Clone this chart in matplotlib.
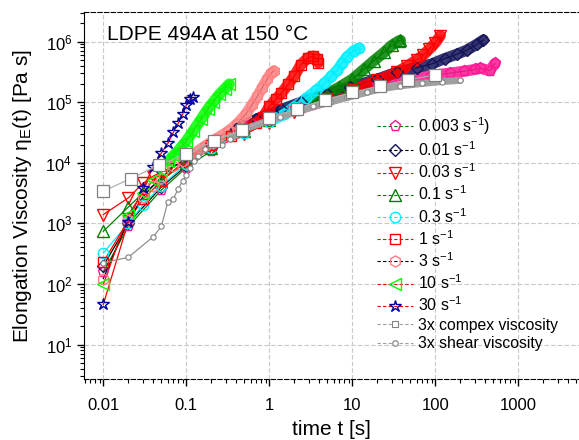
import numpy as np
import matplotlib
matplotlib.use("Agg")
import matplotlib.pyplot as plt
from matplotlib.lines import Line2D
from matplotlib.ticker import NullFormatter

plt.rcParams['font.family'] = ['Liberation Sans', 'DejaVu Sans']
plt.rcParams['mathtext.fontset'] = 'custom'
plt.rcParams['mathtext.rm'] = 'Liberation Sans'
plt.rcParams['mathtext.it'] = 'Liberation Sans:italic'
plt.rcParams['mathtext.default'] = 'regular'

# elongation viscosity (Pa s) vs time (s)
t_30 = [0.01, 0.02, 0.03, 0.04, 0.05, 0.06, 0.07, 0.08, 0.09, 0.10, 0.11, 0.12]
eta_30 = [46, 1070, 3800, 8500, 14500, 21000, 32000, 45000, 63000, 89000, 112000, 120000]

t_10 = [0.01, 0.02, 0.03, 0.04, 0.05, 0.06, 0.07, 0.08, 0.10, 0.12, 0.15, 0.18, 0.21, 0.25, 0.29, 0.33]
eta_10 = [98, 1400, 3200, 5200, 7600, 10500, 13200, 15800, 23000, 33000, 52000, 76000, 100000,
          135000, 166000, 200000]

t_3 = [0.01, 0.02, 0.03, 0.04, 0.05, 0.07, 0.09, 0.12, 0.17, 0.23, 0.32, 0.41, 0.52, 0.62, 0.72,
       0.82, 0.94, 1.05, 1.13]
eta_3 = [123, 1120, 2750, 4200, 5600, 8700, 10700, 13800, 19000, 25000, 33000, 44000, 63000, 91000,
         126000, 174000, 240000, 300000, 330000]

t_1 = [0.01, 0.02, 0.03, 0.05, 0.1, 0.2, 0.35, 0.5, 0.7, 0.85, 1.0, 1.2, 1.4, 1.7, 2.0, 2.4, 2.9,
       3.4, 3.8, 3.9]
eta_1 = [230, 1120, 2500, 5000, 11200, 20000, 28000, 35500, 46000, 58000, 85000, 112000, 141000,
         200000, 270000, 417000, 537000, 575000, 525000, 447000]

t_03 = [0.01, 0.02, 0.03, 0.05, 0.1, 0.2, 0.5, 1.0, 1.5, 2.0, 2.8, 3.7, 4.6, 5.6, 6.6, 7.6, 8.6,
        10.4, 11.9]
eta_03 = [324, 1000, 2000, 4200, 9500, 17800, 31600, 47900, 63000, 83000, 117000, 158000, 204000,
          269000, 339000, 447000, 562000, 708000, 776000]

t_01 = [0.01, 0.02, 0.03, 0.05, 0.1, 0.2, 0.5, 1, 2, 4, 7, 10, 14, 18, 24, 30, 36, 38]
eta_01 = [740, 1860, 3160, 5250, 10000, 17800, 33000, 50000, 76000, 117000, 178000, 240000, 355000,
          479000, 661000, 871000, 1020000, 1050000]

t_003 = [0.01, 0.02, 0.03, 0.04, 0.06, 0.1, 0.2, 0.5, 1, 2, 5, 10, 20, 35, 45, 60, 72, 85, 100, 115]
eta_003 = [1400, 2630, 4570, 6030, 7940, 10500, 16600, 30200, 45700, 69000, 112000, 158000, 229000,
           316000, 389000, 501000, 603000, 759000, 955000, 1260000]

t_001 = [0.01, 0.02, 0.05, 0.1, 0.2, 0.4, 0.7, 1.4, 2.4, 5, 9.5, 20, 35, 60, 90, 130, 180, 240, 320, 380]
eta_001 = [200, 1000, 3980, 8900, 17800, 35500, 52500, 75900, 100000, 138000, 178000, 240000,
           316000, 372000, 427000, 525000, 617000, 724000, 912000, 1070000]

t_0003 = [0.01, 0.02, 0.05, 0.1, 0.2, 0.4, 0.6, 1, 2.4, 5, 9.5, 20, 38, 88, 150, 220, 300, 350, 450, 525]
eta_0003 = [158, 890, 3550, 8300, 15800, 31600, 45700, 57500, 79400, 107000, 138000, 191000, 224000,
            275000, 302000, 324000, 347000, 363000, 331000, 437000]

# 3x shear viscosity and 3x complex viscosity
t_shear = [0.01, 0.02, 0.04, 0.05, 0.06, 0.07, 0.08, 0.09, 0.1, 0.11, 0.125, 0.14, 0.17, 0.21, 0.27,
           0.34, 0.54, 1.0, 1.36, 2.4, 3.4, 5.4, 8.6, 15, 22, 38, 70, 120, 200]
eta_shear = [224, 275, 603, 891, 2290, 2570, 3720, 5010, 6310, 8130, 10500, 12900, 17000, 18600,
             20000, 25100, 37200, 50100, 57500, 72400, 85100, 100000, 120000, 145000, 166000,
             186000, 204000, 219000, 229000]

t_cplx = [0.01, 0.0215, 0.0464, 0.1, 0.215, 0.464, 1, 2.15, 4.64, 10, 21.5, 46.4, 100]
eta_cplx = [3400, 5500, 9100, 14000, 23000, 35000, 54000, 78000, 110000, 145000, 186000, 234000, 282000]

labels = ['0.003 s$^{-1}$)', '0.01 s$^{-1}$', '0.03 s$^{-1}$', '0.1 s$^{-1}$', '0.3 s$^{-1}$',
          '1 s$^{-1}$', '3 s$^{-1}$', '10 s$^{-1}$', '30 s$^{-1}$']
xtick_vals = [0.01, 0.1, 1, 10, 100, 1000]
xtick_labels = ['0.01', '0.1', '1', '10', '100', '1000']

# (t, eta, marker, marker color, line color, marker size, band from t)
series = [
    (t_0003, eta_0003, 'p', '#ff1493', '#008000', 8, 0.3),
    (t_001, eta_001, 'D', '#14145a', 'black', 6.5, 0.3),
    (t_003, eta_003, 'v', '#ff0000', '#ff0000', 8, 8),
    (t_01, eta_01, '^', '#008000', '#008000', 8, 2),
    (t_03, eta_03, 'o', '#00f0ff', '#00f0ff', 7.5, 0.8),
    (t_1, eta_1, 's', '#ff0000', '#ff0000', 6.5, 0.3),
    (t_3, eta_3, 'h', '#ff8080', 'black', 8, 0.1),
    (t_10, eta_10, '<', '#00ff00', '#ff0000', 8, 0.06),
    (t_30, eta_30, '*', '#0000a0', '#ff0000', 9, 99),
]

fig = plt.figure(figsize=(5.79, 4.40), dpi=100)
ax = fig.add_axes([84 / 579, 1 - 379 / 440, 1 - 84 / 579, (379 - 12) / 440])
ax.set_xscale('log')
ax.set_yscale('log')
ax.set_xlim(0.00585, 5380)
ax.set_ylim(2.7, 3.08e6)

for t, eta, mk, mc, lc, ms, band in series:
    t = np.array(t)
    eta = np.array(eta)
    ax.plot(t, eta, '-', color=lc, lw=0.9, zorder=2)
    sel = t >= band
    if sel.sum() > 1:
        ax.plot(t[sel], eta[sel], '-', color=mc, lw=8, alpha=0.85, solid_capstyle='round', zorder=2)
    ax.plot(t, eta, ls='none', marker=mk, ms=ms, mfc='none', mec=mc, mew=1.0, zorder=3)

ax.plot(t_shear, eta_shear, '-', color='#909090', lw=0.9, zorder=4)
ts = np.array(t_shear)
es = np.array(eta_shear)
ax.plot(ts[ts >= 0.3], es[ts >= 0.3], '-', color='#a0a0a0', lw=5, solid_capstyle='round', zorder=4)
ax.plot(t_shear, eta_shear, ls='none', marker='o', ms=3.8, mfc='white', mec='#808080', mew=0.8, zorder=4)
ax.plot(t_cplx, eta_cplx, '-', color='#b0b0b0', lw=0.9, zorder=5)
ax.plot(t_cplx, eta_cplx, ls='none', marker='s', ms=9, mfc='white', mec='#808080', mew=0.9, zorder=5)

ax.grid(True, which='major', color='#c8c8c8', ls=(0, (4, 2)), lw=0.8)
ax.set_axisbelow(True)
ax.set_xticks(xtick_vals)
ax.set_xticklabels(xtick_labels)
ax.xaxis.set_minor_formatter(NullFormatter())
ax.yaxis.set_minor_formatter(NullFormatter())
ax.tick_params(which='major', direction='out', length=5, width=1, labelsize=12)
ax.tick_params(axis='x', which='major', pad=9)
ax.tick_params(which='minor', direction='out', length=3, width=0.8)
ax.spines['right'].set_visible(False)
ax.spines['top'].set_linestyle((0, (4, 2)))
ax.spines['bottom'].set_linestyle((0, (4, 2)))

ax.set_xlabel('time t [s]', fontsize=15, labelpad=5)
ax.set_ylabel('Elongation Viscosity η$_E$(t) [Pa s]', fontsize=15, labelpad=8)
fig.text(107 / 579, 1 - 35 / 440, 'LDPE 494A at 150 °C', fontsize=15, va='center', ha='left')

handles = []
for t, eta, mk, mc, lc, ms, band in series:
    handles.append(Line2D([], [], color=lc, lw=0.8, ls=(0, (3, 2)), marker=mk, ms=ms,
                          mfc='none', mec=mc, mew=1.0))
handles.append(Line2D([], [], color='#a0a0a0', lw=0.8, ls=(0, (3, 2)), marker='s', ms=5,
                      mfc='white', mec='#808080', mew=0.8))
handles.append(Line2D([], [], color='#a0a0a0', lw=0.8, ls=(0, (3, 2)), marker='o', ms=4,
                      mfc='white', mec='#808080', mew=0.8))
leg = ax.legend(handles, labels + ['3x compex viscosity', '3x shear viscosity'],
                loc='upper left', bbox_to_anchor=(377 / 579, 1 - 115 / 440),
                bbox_transform=fig.transFigure, frameon=False, fontsize=11.5,
                borderpad=0, borderaxespad=0, handlelength=2.25, handletextpad=0.3,
                labelspacing=0.22)
for txt in leg.get_texts()[9:]:
    txt.set_fontsize(11.3)

fig.savefig('out.png', dpi=100)
